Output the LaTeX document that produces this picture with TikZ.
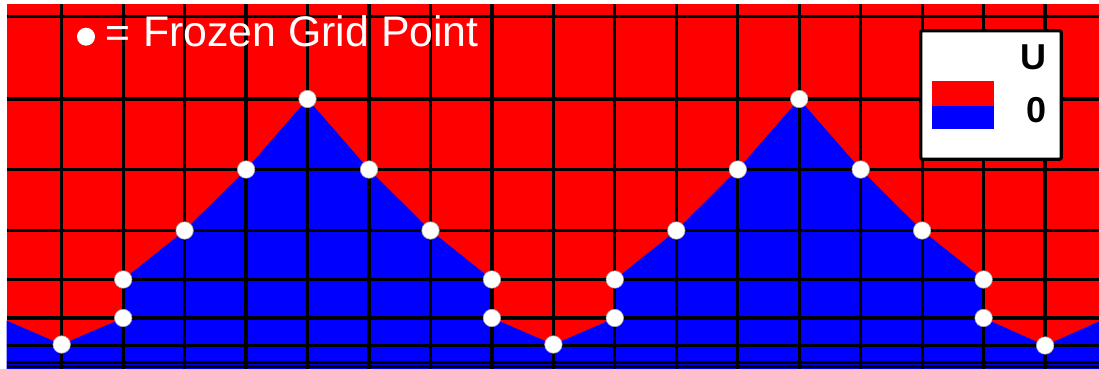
\documentclass[tikz,border=0pt]{standalone}
\usepackage{fontspec}
\setmainfont{Liberation Sans}
\begin{document}
\begin{tikzpicture}[x=1pt,y=-1pt,
  gridline/.style={line width=3.2pt,black},
  frozen/.style={circle,fill=white,draw=black!35,line width=0.6pt,minimum size=17.5pt,inner sep=0pt},
  legendbox/.style={draw=black,fill=white,line width=3.2pt,rounded corners=2pt},
  bigtxt/.style={text=white,font=\fontsize{42.8}{43}\selectfont,inner sep=0pt},
  legtxt/.style={font=\fontsize{36}{36}\selectfont\bfseries,inner sep=0pt}]
\useasboundingbox (0,0) rectangle (1099,369);
% background domain (state U)
\fill[red] (6.7,4) rectangle (1099,369);
% grid x positions
\foreach \i in {1,...,17}{
  \pgfmathsetmacro{\xx}{61.7+61.46*(\i-1)}
  \coordinate (c\i) at (\xx,0);
}
% frozen interface points
\coordinate (L)   at (6.7,320.7);
\coordinate (p1)  at (61.7,344.5);
\coordinate (p2a) at (123.2,318);
\coordinate (p2b) at (123.2,279.5);
\coordinate (p3)  at (184.6,230.5);
\coordinate (p4)  at (246.1,169.5);
\coordinate (p5)  at (307.5,99);
\coordinate (p6)  at (369.0,169.5);
\coordinate (p7)  at (430.5,230.5);
\coordinate (p8b) at (491.9,279.5);
\coordinate (p8a) at (491.9,318);
\coordinate (p9)  at (553.4,344.5);
\coordinate (p10a) at (614.8,318);
\coordinate (p10b) at (614.8,279.5);
\coordinate (p11) at (676.3,230.5);
\coordinate (p12) at (737.8,169.5);
\coordinate (p13) at (799.2,99);
\coordinate (p14) at (860.7,169.5);
\coordinate (p15) at (922.1,230.5);
\coordinate (p16b) at (983.6,279.5);
\coordinate (p16a) at (983.6,318);
\coordinate (p17) at (1045.1,345.5);
\coordinate (R)   at (1099,321.5);
% region of state 0
\fill[blue] (L) -- (p1) -- (p2a) -- (p2b) -- (p3) -- (p4) -- (p5) -- (p6) -- (p7)
  -- (p8b) -- (p8a) -- (p9) -- (p10a) -- (p10b) -- (p11) -- (p12) -- (p13) -- (p14)
  -- (p15) -- (p16b) -- (p16a) -- (p17) -- (R) -- (1099,369) -- (6.7,369) -- cycle;
% grid
\foreach \yy in {16.3,99,169.5,230.5,279.5,318,345.5,362.3,366.6}
  \draw[gridline] (6.7,\yy) -- (1099,\yy);
\foreach \i in {1,...,17}
  \draw[gridline] (c\i |- 0,4) -- (c\i |- 0,369);
% frozen grid points
\foreach \p in {p1,p2a,p2b,p3,p4,p5,p6,p7,p8b,p8a,p9,p10a,p10b,p11,p12,p13,p14,p15,p16b,p16a,p17}
  \node[frozen] (d\p) at (\p) {};
% title
\node[frozen,draw=none,minimum size=18pt] (bul) at (86,36.7) {};
\node[bigtxt,anchor=center] (eq) at (117.5,37) {=};
\node[bigtxt,anchor=base west] (title) at (143,47) {Frozen Grid Point};
% legend
\draw[legendbox] (920.7,30.7) rectangle (1061.3,159.3);
\fill[red] (932.3,81) rectangle (994.3,106);
\fill[blue] (932.3,106) rectangle (994.3,129.3);
\node[legtxt] (lu) at (1033,57) {U};
\node[legtxt] (l0) at (1036,110) {0};
\end{tikzpicture}
\end{document}
